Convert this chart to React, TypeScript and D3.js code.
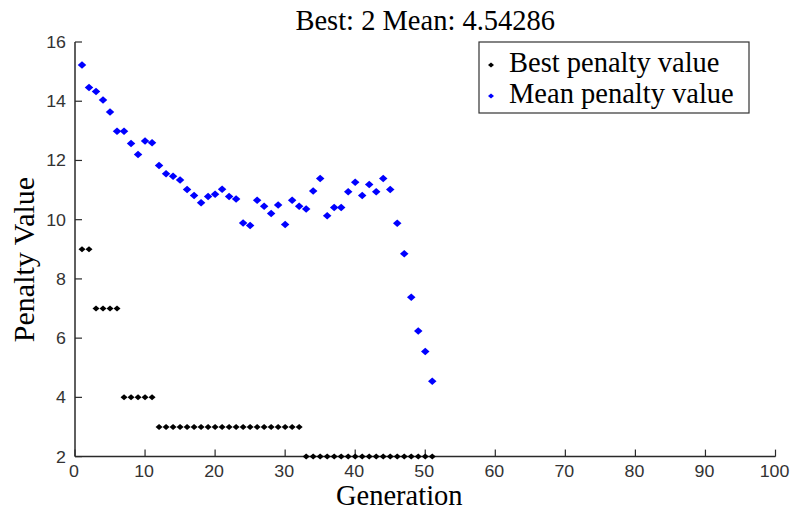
import React from "react";
import * as d3 from "d3";

const generations = d3.range(1, 52);
const bestValues = [
  9, 9, 7, 7, 7, 7, 4, 4, 4, 4, 4,
  3, 3, 3, 3, 3, 3, 3, 3, 3, 3, 3, 3, 3, 3, 3, 3, 3, 3, 3, 3, 3,
  2, 2, 2, 2, 2, 2, 2, 2, 2, 2, 2, 2, 2, 2, 2, 2, 2, 2, 2,
];
const meanValues = [
  15.22, 14.46, 14.33, 14.04, 13.64, 12.99, 12.99, 12.57, 12.2, 12.66,
  12.6, 11.83, 11.55, 11.47, 11.34, 11.02, 10.82, 10.57, 10.78, 10.86,
  11.03, 10.78, 10.7, 9.89, 9.8, 10.66, 10.45, 10.21, 10.5, 9.84,
  10.66, 10.45, 10.36, 10.97, 11.39, 10.13, 10.41, 10.41, 10.94, 11.26,
  10.82, 11.19, 10.94, 11.39, 11.02, 9.88, 8.85, 7.38, 6.24, 5.55, 4.54286,
];
const xTicks = [0, 10, 20, 30, 40, 50, 60, 70, 80, 90, 100];
const yTicks = [2, 4, 6, 8, 10, 12, 14, 16];
const titleText = "Best: 2 Mean: 4.54286";
const legendLabels = ["Best penalty value", "Mean penalty value"];

const W = 792;
const H = 511;

export default function App() {
  const x = d3.scaleLinear().domain([0, 100]).range([75, 775.5]);
  const y = d3.scaleLinear().domain([2, 16]).range([456.6, 42]);
  const serif = "'Liberation Serif', 'Times New Roman', serif";
  const sans = "'Liberation Sans', Arial, sans-serif";
  const diamond = (cx: number, cy: number, w: number, h: number) =>
    `M${cx - w / 2},${cy}L${cx},${cy - h / 2}L${cx + w / 2},${cy}L${cx},${cy + h / 2}Z`;
  const axisColor = "#2a2a2a";
  const midX = (x(0) + x(100)) / 2;

  return (
    <svg width={W} height={H} style={{ position: "absolute", left: 0, top: 0, background: "#fff" }}>
      <rect x={0} y={0} width={W} height={H} fill="#fff" />
      {/* axes */}
      <line x1={x(0)} x2={x(0)} y1={y(16)} y2={y(2)} stroke={axisColor} strokeWidth={1.5} />
      <line x1={x(0)} x2={x(100)} y1={y(2)} y2={y(2)} stroke={axisColor} strokeWidth={1.5} />
      {yTicks.map((t) => (
        <g key={"y" + t}>
          <line x1={x(0)} x2={x(0) + 7} y1={y(t)} y2={y(t)} stroke={axisColor} strokeWidth={1.2} />
          <text
            transform={`translate(${x(0) - 9}, ${y(t) + 6}) scale(1.08,1)`}
            textAnchor="end"
            fontFamily={sans}
            fontSize={16.5}
            fill="#333"
          >
            {t}
          </text>
        </g>
      ))}
      {xTicks.map((t) => (
        <g key={"x" + t}>
          <line x1={x(t)} x2={x(t)} y1={y(2)} y2={y(2) - 7} stroke={axisColor} strokeWidth={1.2} />
          <text
            transform={`translate(${x(t) - 1}, ${y(2) + 20.5}) scale(1.08,1)`}
            textAnchor="middle"
            fontFamily={sans}
            fontSize={16.5}
            fill="#333"
          >
            {t}
          </text>
        </g>
      ))}
      {/* data */}
      {bestValues.map((v, i) => (
        <path key={"b" + i} d={diamond(x(generations[i]), y(v), 7, 6)} fill="#000" />
      ))}
      {meanValues.map((v, i) => (
        <path key={"m" + i} d={diamond(x(generations[i]), y(v), 8.5, 7.5)} fill="#0000ff" />
      ))}
      {/* title and labels */}
      <text x={midX} y={30} textAnchor="middle" fontFamily={serif} fontSize={28.5} fill="#000">
        {titleText}
      </text>
      <text x={midX - 26} y={505} textAnchor="middle" fontFamily={serif} fontSize={28.5} fill="#000">
        Generation
      </text>
      <text
        transform={`translate(34, 259.5) rotate(-90)`}
        textAnchor="middle"
        fontFamily={serif}
        fontSize={30}
        fill="#000"
      >
        Penalty Value
      </text>
      {/* legend */}
      <rect x={479} y={42} width={270} height={71} fill="#fff" stroke="#333" strokeWidth={1.2} />
      <path d={diamond(491, 65, 6, 5)} fill="#000" />
      <path d={diamond(491, 96, 6, 5)} fill="#0000ff" />
      <text x={509} y={72} fontFamily={serif} fontSize={28.5} fill="#000">
        {legendLabels[0]}
      </text>
      <text x={509} y={103} fontFamily={serif} fontSize={28.5} fill="#000">
        {legendLabels[1]}
      </text>
    </svg>
  );
}
